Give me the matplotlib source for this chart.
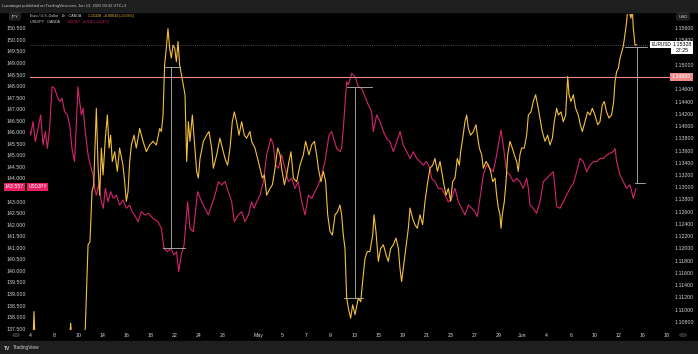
import numpy as np
import matplotlib
matplotlib.use("Agg")
import matplotlib.pyplot as plt
from matplotlib.patches import Rectangle, Circle

plt.rcParams['font.family'] = ['Liberation Sans', 'DejaVu Sans']

# x = trading-day index, 0 = Fri Apr 4 2025 00:00
tick_days = [0, 2, 4, 6, 8, 10, 12, 14, 16, 19, 21, 23, 25, 27, 29, 31, 33, 35, 37, 39, 41, 43, 45, 47, 49, 51, 53]
tick_labels = ["4", "8", "10", "14", "16", "18", "22", "24", "28", "May", "5", "7", "9", "13", "15",
               "19", "21", "23", "27", "29", "Jun", "4", "6", "10", "12", "16", "18"]

# USDJPY (left scale)
jpy_days = [-0.225, 0.00, 0.19, 0.39, 0.61, 0.83, 1.03, 1.22, 1.39, 1.58, 1.78, 2.00, 2.22, 2.41, 2.61,
            2.83, 3.05, 3.25, 3.44, 3.66, 3.80, 3.94, 4.08, 4.22, 4.36, 4.55, 4.78, 4.97, 5.19, 5.33,
            5.47, 5.66, 5.89, 6.05, 6.22, 6.44, 6.66, 6.89, 7.14, 7.41, 7.69, 7.97, 8.25, 8.44, 8.66,
            8.94, 9.22, 9.50, 9.83, 10.19, 10.61, 10.89, 11.11, 11.39, 11.66, 11.94, 12.16, 12.33, 12.55,
            12.78, 13.08, 13.27, 13.55, 13.91, 14.25, 14.52, 14.80, 15.08, 15.36, 15.64, 15.91, 16.19,
            16.47, 16.75, 16.97, 17.30, 17.58, 17.86, 18.14, 18.41, 18.61, 18.83, 19.11, 19.39, 19.66,
            20.02, 20.22, 20.41, 20.64, 20.91, 21.19, 21.47, 21.75, 22.02, 22.30, 22.58, 22.86, 23.14,
            23.41, 23.69, 23.97, 24.25, 24.52, 24.86, 25.08, 25.50, 25.77, 25.91, 26.05, 26.33, 26.47,
            26.75, 27.03, 27.30, 27.58, 27.86, 28.14, 28.41, 28.55, 28.83, 29.11, 29.39, 29.66, 29.94,
            30.22, 30.50, 30.78, 31.05, 31.33, 31.61, 31.89, 32.16, 32.44, 32.72, 33.00, 33.27, 33.41,
            33.69, 33.97, 34.25, 34.52, 34.80, 35.08, 35.36, 35.64, 35.91, 36.19, 36.47, 36.75, 37.02,
            37.22, 37.44, 37.72, 38.00, 38.27, 38.55, 38.83, 39.19, 39.38, 39.66, 39.94, 40.22, 40.50,
            40.77, 41.05, 41.33, 41.47, 41.61, 41.88, 42.16, 42.44, 42.72, 43.00, 43.27, 43.55, 43.69,
            43.83, 44.11, 44.38, 44.66, 44.94, 45.22, 45.50, 45.77, 46.05, 46.33, 46.61, 46.88, 47.16,
            47.44, 47.72, 48.00, 48.27, 48.55, 48.69, 48.83, 49.11, 49.38, 49.66, 49.94, 50.22, 50.36,
            50.44]
jpy_vals = [146.31, 145.88, 146.46, 145.59, 146.17, 146.75, 145.45, 146.03, 145.30, 146.17, 147.97, 147.90,
            147.54, 147.33, 147.47, 146.89, 146.75, 146.31, 145.30, 144.73, 146.31, 147.97, 147.33, 146.75,
            147.04, 146.03, 145.02, 144.58, 144.15, 143.57, 143.28, 143.72, 142.99, 142.71, 143.57, 142.99,
            143.43, 143.14, 143.28, 142.85, 143.07, 142.71, 142.85, 142.56, 142.42, 142.13, 142.56, 142.42,
            142.49, 142.27, 142.13, 141.84, 140.98, 140.83, 140.98, 140.69, 140.83, 139.97, 140.69, 141.12,
            142.99, 141.84, 141.70, 143.43, 142.99, 142.71, 142.42, 142.85, 143.28, 143.86, 143.72, 143.86,
            143.43, 142.99, 142.13, 142.42, 142.56, 142.13, 142.42, 142.99, 142.71, 142.99, 143.28, 143.86,
            145.02, 145.74, 145.45, 144.58, 144.44, 145.02, 144.44, 143.86, 144.01, 143.57, 143.86, 142.99,
            142.42, 143.28, 143.14, 143.43, 143.72, 144.15, 144.73, 145.88, 146.03, 145.30, 145.16, 145.30,
            146.17, 148.19, 148.05, 148.55, 148.41, 147.97, 147.90, 147.54, 147.18, 146.89, 146.03, 146.75,
            146.46, 146.03, 145.74, 145.59, 145.16, 145.59, 146.03, 145.45, 145.16, 144.87, 145.16, 144.87,
            144.73, 144.58, 144.73, 144.44, 144.01, 143.86, 143.57, 143.57, 143.28, 142.99, 143.14, 143.57,
            142.99, 142.71, 142.42, 142.85, 142.71, 142.56, 142.35, 143.14, 144.15, 144.58, 144.44, 144.29,
            145.02, 146.10, 145.45, 144.29, 144.15, 143.86, 144.01, 143.86, 143.57, 144.01, 143.57, 142.85,
            142.71, 142.49, 142.99, 143.86, 144.01, 144.15, 144.29, 143.57, 142.78, 142.71, 142.99, 143.28,
            143.57, 143.79, 144.29, 144.87, 144.73, 144.29, 144.58, 144.73, 144.73, 144.87, 144.87, 145.02,
            145.09, 145.16, 145.30, 144.73, 144.15, 143.86, 143.57, 143.72, 143.14, 143.43, 143.557]

# EURUSD (right scale)
eur_days = [-0.225, -0.09, 0.11, 0.275, 0.44, 0.89, 1.44, 2.00, 2.55, 3.10, 3.33, 3.47, 3.66, 4.08, 4.36,
            4.55, 4.78, 4.94, 5.11, 5.25, 5.47, 5.61, 5.75, 5.89, 6.03, 6.22, 6.39, 6.53, 6.66, 6.80,
            7.00, 7.22, 7.41, 7.69, 7.83, 7.97, 8.11, 8.25, 8.39, 8.61, 8.80, 9.08, 9.36, 9.64, 9.91,
            10.19, 10.47, 10.75, 10.89, 11.03, 11.16, 11.30, 11.44, 11.58, 11.72, 11.86, 12.00, 12.14,
            12.28, 12.41, 12.61, 12.86, 13.00, 13.14, 13.27, 13.47, 13.64, 13.83, 13.97, 14.11, 14.39,
            14.66, 14.86, 15.08, 15.22, 15.50, 15.77, 15.97, 16.19, 16.41, 16.61, 16.80, 16.97, 17.16,
            17.36, 17.58, 17.80, 17.99, 18.27, 18.41, 18.69, 18.91, 19.11, 19.30, 19.47, 19.66, 19.94,
            20.14, 20.36, 20.58, 20.78, 20.91, 21.14, 21.33, 21.52, 21.69, 21.89, 22.16, 22.44, 22.72,
            22.91, 23.19, 23.41, 23.64, 23.83, 23.97, 24.19, 24.39, 24.58, 24.75, 24.94, 25.14, 25.36,
            25.58, 25.77, 25.91, 26.05, 26.19, 26.33, 26.47, 26.66, 26.83, 27.03, 27.30, 27.50, 27.66,
            27.86, 28.05, 28.27, 28.50, 28.61, 28.77, 28.97, 29.16, 29.39, 29.61, 29.80, 30.00, 30.22,
            30.44, 30.64, 30.77, 30.91, 31.05, 31.19, 31.47, 31.61, 31.83, 32.02, 32.22, 32.44, 32.66,
            32.86, 33.05, 33.27, 33.50, 33.69, 33.89, 34.11, 34.25, 34.44, 34.61, 34.80, 35.00, 35.16,
            35.36, 35.55, 35.72, 35.83, 36.00, 36.19, 36.33, 36.47, 36.66, 36.89, 37.11, 37.22, 37.39,
            37.58, 37.72, 37.94, 38.14, 38.33, 38.50, 38.69, 38.83, 38.97, 39.11, 39.19, 39.30, 39.47,
            39.61, 39.75, 39.94, 40.13, 40.30, 40.50, 40.63, 40.77, 40.91, 41.13, 41.33, 41.47, 41.69,
            41.88, 42.08, 42.25, 42.44, 42.63, 42.86, 43.08, 43.27, 43.47, 43.63, 43.83, 43.97, 44.19,
            44.38, 44.58, 44.75, 44.86, 45.02, 45.22, 45.41, 45.63, 45.80, 45.97, 46.19, 46.41, 46.61,
            46.80, 47.02, 47.25, 47.44, 47.63, 47.80, 47.99, 48.19, 48.41, 48.58, 48.69, 48.83, 48.97,
            49.11, 49.25, 49.38, 49.52, 49.66, 49.75, 49.88, 50.02, 50.13, 50.22, 50.36, 50.49]
eur_vals = [1.1119, 1.1035, 1.1000, 1.1097, 1.1010, 1.0950, 1.0930, 1.0920, 1.0980, 1.1010, 1.1078, 1.1040,
            1.1010, 1.1040, 1.1050, 1.1070, 1.1206, 1.1211, 1.1293, 1.1304, 1.1429, 1.1336, 1.1287, 1.1364,
            1.1320, 1.1380, 1.1418, 1.1364, 1.1385, 1.1342, 1.1358, 1.1326, 1.1364, 1.1336, 1.1309, 1.1277,
            1.1293, 1.1342, 1.1369, 1.1385, 1.1364, 1.1396, 1.1375, 1.1358, 1.1369, 1.1375, 1.1369, 1.1396,
            1.1391, 1.1418, 1.1500, 1.1527, 1.1559, 1.1527, 1.1511, 1.1532, 1.1527, 1.1505, 1.1538, 1.1500,
            1.1478, 1.1451, 1.1342, 1.1407, 1.1375, 1.1418, 1.1375, 1.1326, 1.1315, 1.1347, 1.1375, 1.1385,
            1.1391, 1.1364, 1.1331, 1.1353, 1.1380, 1.1364, 1.1347, 1.1336, 1.1364, 1.1407, 1.1423, 1.1407,
            1.1385, 1.1407, 1.1385, 1.1380, 1.1391, 1.1375, 1.1364, 1.1347, 1.1331, 1.1315, 1.1320, 1.1287,
            1.1298, 1.1304, 1.1331, 1.1364, 1.1353, 1.1331, 1.1304, 1.1320, 1.1342, 1.1358, 1.1315, 1.1309,
            1.1336, 1.1353, 1.1375, 1.1353, 1.1369, 1.1375, 1.1353, 1.1331, 1.1309, 1.1326, 1.1309, 1.1255,
            1.1228, 1.1222, 1.1255, 1.1260, 1.1271, 1.1255, 1.1222, 1.1200, 1.1119, 1.1103, 1.1086, 1.1108,
            1.1092, 1.1119, 1.1113, 1.1146, 1.1184, 1.1195, 1.1195, 1.1222, 1.1255, 1.1228, 1.1179, 1.1200,
            1.1206, 1.1190, 1.1179, 1.1200, 1.1206, 1.1217, 1.1200, 1.1168, 1.1146, 1.1168, 1.1190, 1.1233,
            1.1266, 1.1249, 1.1239, 1.1233, 1.1255, 1.1239, 1.1277, 1.1304, 1.1331, 1.1336, 1.1347, 1.1326,
            1.1342, 1.1326, 1.1304, 1.1287, 1.1298, 1.1277, 1.1309, 1.1315, 1.1347, 1.1336, 1.1358, 1.1380,
            1.1407, 1.1418, 1.1396, 1.1385, 1.1391, 1.1402, 1.1385, 1.1364, 1.1353, 1.1331, 1.1342, 1.1336,
            1.1326, 1.1309, 1.1315, 1.1287, 1.1266, 1.1255, 1.1233, 1.1255, 1.1277, 1.1309, 1.1353, 1.1375,
            1.1364, 1.1353, 1.1342, 1.1326, 1.1353, 1.1364, 1.1364, 1.1385, 1.1418, 1.1423, 1.1440, 1.1451,
            1.1434, 1.1413, 1.1391, 1.1375, 1.1385, 1.1369, 1.1380, 1.1407, 1.1429, 1.1418, 1.1423, 1.1407,
            1.1418, 1.1481, 1.1451, 1.1440, 1.1451, 1.1429, 1.1418, 1.1402, 1.1391, 1.1407, 1.1423, 1.1418,
            1.1429, 1.1418, 1.1402, 1.1407, 1.1434, 1.1440, 1.1423, 1.1413, 1.1418, 1.1440, 1.1472, 1.1489,
            1.1494, 1.1511, 1.1521, 1.1530, 1.1549, 1.1570, 1.1592, 1.1587, 1.1576, 1.1592, 1.1559, 1.1532,
            1.15328]

# drawn objects on the EURUSD scale: (day, top, bottom, top tick span, bottom tick span)
measures = [
    (11.72, 1.14968, 1.12007, (11.17, 12.42), (11.03, 12.83)),
    (27.03, 1.14641, 1.11191, (26.33, 28.42), (26.11, 27.69)),
    (50.50, 1.15285, 1.13069, (49.53, 51.33), (50.36, 51.20)),
]
h_line = 1.148
eur_last = 1.15328
jpy_last = 143.557

W, H = 698, 354
GOLD = '#f5c13b'
MAG = '#d6246e'
TXT = '#d1d4dc'


def fx(px):
    return px / W


def fy(py):
    return 1 - py / H


fig = plt.figure(figsize=(W / 100, H / 100), dpi=100)
fig.patch.set_facecolor('black')
fig.add_artist(Rectangle((0, fy(12)), 1, 12 / H, transform=fig.transFigure, color='#1e1e1e', zorder=0))
fig.add_artist(Rectangle((0, 0), 1, 13 / H, transform=fig.transFigure, color='#1e1e1e', zorder=0))

ax = fig.add_axes([fx(30), fy(330), 640 / W, 316 / H])
ax.set_facecolor('black')
ax2 = ax.twinx()
for a in (ax, ax2):
    for s in a.spines.values():
        s.set_visible(False)

ax.plot(jpy_days, jpy_vals, color=MAG, lw=0.8)
ax.set_ylim(137.44, 151.12)
ax.set_xlim(-0.058, 53.275)
# the 143.500 label sits under the last-price tag
jt = [v for v in np.arange(137.5, 150.51, 0.5) if abs(v - 143.5) > 0.01]
ax.set_yticks(jt)
ax.set_yticklabels(['%.3f' % v for v in jt])
ax.tick_params(axis='y', length=0, labelsize=3.8, labelcolor=TXT, pad=3)
ax.set_xticks(tick_days)
ax.set_xticklabels(tick_labels)
ax.tick_params(axis='x', length=0, labelsize=3.8, labelcolor=TXT, pad=2)

ax2.axhline(h_line, color='#f48686', lw=0.8)
ax2.axhline(eur_last, color='#8a8d96', lw=0.5, ls=(0, (1, 2)))
ax2.plot(eur_days, eur_vals, color=GOLD, lw=0.8)
for d, top, bot, tspan, bspan in measures:
    ax2.plot([d, d], [top, bot], color='#b8b8b8', lw=0.6)
    ax2.plot(tspan, [top, top], color='#b8b8b8', lw=0.6)
    ax2.plot(bspan, [bot, bot], color='#b8b8b8', lw=0.6)
ax2.set_ylim(1.10669, 1.15829)
# 1.148 and 1.152 are covered by the price tags
et = [v for v in np.arange(1.108, 1.15601, 0.002) if abs(v - 1.148) > 1e-5 and abs(v - 1.152) > 1e-5]
ax2.set_yticks(et)
ax2.set_yticklabels(['%.5f' % v for v in et])
ax2.tick_params(axis='y', length=0, labelsize=3.8, labelcolor=TXT, pad=3)

# header / legend
fig.text(fx(2), fy(6), "Lucatarget published on TradingView.com, Jun 13, 2025 09:32 UTC+3",
         fontsize=2.9, color='#c8c8c8', va='center')
fig.text(fx(30), fy(15.7), "Euro / U.S. Dollar · 1h · OANDA", fontsize=2.6, color=TXT, va='center')
fig.text(fx(88), fy(15.7), "1.15328  +0.00034 (+0.03%)", fontsize=2.6, color=GOLD, va='center')
fig.text(fx(30), fy(22), "USDJPY · OANDA", fontsize=2.6, color=TXT, va='center')
fig.text(fx(67), fy(22), "143.557  +0.016 (+0.01%)", fontsize=2.6, color=MAG, va='center')

box = dict(boxstyle='round,pad=0.35', fc='#1e1e1e', ec='#3a3a3a', lw=0.4)
fig.text(fx(15), fy(16.5), "JPY", fontsize=3.2, color=TXT, ha='center', va='center', bbox=box)
fig.text(fx(683), fy(16.5), "USD", fontsize=3.2, color=TXT, ha='center', va='center', bbox=box)

# price labels
fig.text(fx(14.5), fy(187), "143.557", fontsize=3.8, color='white', ha='center', va='center',
         bbox=dict(boxstyle='square,pad=0.25', fc='#e91e63', ec='none'))
fig.text(fx(37.5), fy(187), "USDJPY", fontsize=3.4, color='white', ha='center', va='center',
         bbox=dict(boxstyle='square,pad=0.25', fc='#e91e63', ec='none'))
fig.text(fx(681.5), fy(77), "1.14800", fontsize=3.8, color='white', ha='center', va='center',
         bbox=dict(boxstyle='square,pad=0.25', fc='#f08a8a', ec='none'))
fig.text(fx(661), fy(44.5), "EURUSD", fontsize=3.4, color='black', ha='center', va='center',
         bbox=dict(boxstyle='square,pad=0.25', fc='white', ec='none'))
fig.text(fx(682), fy(47.5), "1.15328\n27:25", fontsize=3.8, color='black', ha='center', va='center',
         linespacing=1.1, bbox=dict(boxstyle='square,pad=0.3', fc='white', ec='none'))

# small buttons on the time axis row
fig.add_artist(Circle((fx(16), fy(335)), 3.5 / W, transform=fig.transFigure, fc='#2a2a2a', ec='#444444', lw=0.4))
fig.add_artist(Circle((fx(683), fy(335)), 3.5 / W, transform=fig.transFigure, fc='#2a2a2a', ec='#444444', lw=0.4))

# footer
fig.text(fx(4), fy(348), "TV", fontsize=3.6, color='#d0d0d0', weight='bold', va='center')
fig.text(fx(13), fy(348), "TradingView", fontsize=3.4, color='#d0d0d0', va='center')

fig.savefig('out.png', dpi=100, facecolor='black')
